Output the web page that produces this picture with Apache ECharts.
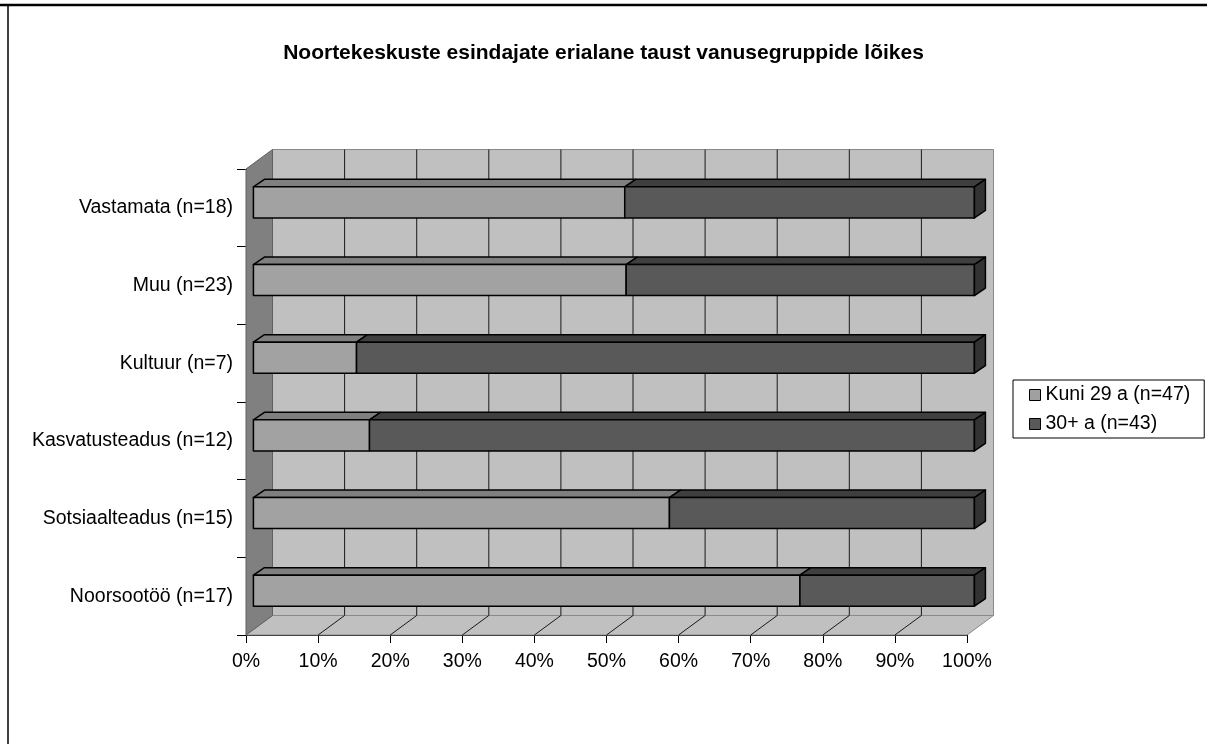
<!DOCTYPE html>
<html>
<head>
<meta charset="utf-8">
<script src="https://cdn.jsdelivr.net/npm/echarts@6/dist/echarts.min.js"></script>
<style>
html,body{margin:0;padding:0;background:#fff;}
#chart{width:1207px;height:744px;}
</style>
</head>
<body>
<div id="chart"></div>
<script>
// ---- data ----
const categories = ['Noorsootöö (n=17)', 'Sotsiaalteadus (n=15)', 'Kasvatusteadus (n=12)', 'Kultuur (n=7)', 'Muu (n=23)', 'Vastamata (n=18)'];
const seriesNames = ['Kuni 29 a (n=47)', '30+ a (n=43)'];
const kuni29 = [75.8, 57.7, 16.1, 14.3, 51.7, 51.5];
const vanem30 = [24.2, 42.3, 83.9, 85.7, 48.3, 48.5];
const xTicks = [0, 10, 20, 30, 40, 50, 60, 70, 80, 90, 100];

// ---- style constants ----
const FONT = "'Liberation Sans', Arial, sans-serif";
const FS = 19.5;
const DX = 26.5, DY = -19.5;          // wall depth offset
const BAR_Z0 = 0.28;                   // bar front depth fraction
const BDX = 11, BDY = -7.5;            // bar depth offset
const BAR_FRAC = 0.40;                 // bar thickness / band

const chart = echarts.init(document.getElementById('chart'), null, {renderer: 'canvas'});

// build stacked data
const dataKuni = categories.map((c, i) => [0, kuni29[i], i]);
const dataVanem = categories.map((c, i) => [kuni29[i], kuni29[i] + vanem30[i], i]);

function wallsRender(params, api) {
  const cs = params.coordSys;
  const x0 = cs.x, x1 = cs.x + cs.width, y0 = cs.y, y1 = cs.y + cs.height;
  const children = [];
  // back wall
  children.push({type: 'polygon', shape: {points: [[x0 + DX, y0 + DY], [x1 + DX, y0 + DY], [x1 + DX, y1 + DY], [x0 + DX, y1 + DY]]},
    style: {fill: '#c0c0c0', stroke: '#8a8a8a', lineWidth: 1}});
  // floor
  children.push({type: 'polygon', shape: {points: [[x0, y1], [x1, y1], [x1 + DX, y1 + DY], [x0 + DX, y1 + DY]]},
    style: {fill: '#c0c0c0', stroke: '#8a8a8a', lineWidth: 1}});
  // side wall
  children.push({type: 'polygon', shape: {points: [[x0, y0], [x0 + DX, y0 + DY], [x0 + DX, y1 + DY], [x0, y1]]},
    style: {fill: '#808080', stroke: '#606060', lineWidth: 1}});
  // grid lines
  xTicks.forEach(v => {
    const x = api.coord([v, 0])[0];
    if (v > 0 && v < 100) {
      children.push({type: 'line', shape: {x1: x + DX, y1: y0 + DY, x2: x + DX, y2: y1 + DY},
        style: {stroke: '#1a1a1a', lineWidth: 1}});
      children.push({type: 'line', shape: {x1: x, y1: y1, x2: x + DX, y2: y1 + DY},
        style: {stroke: '#1a1a1a', lineWidth: 1}});
    }
  });
  return {type: 'group', children: children};
}

function makeBarRender(front, top, side, isLast) {
  return function (params, api) {
    const s = api.value(0), e = api.value(1), ci = api.value(2);
    const p0 = api.coord([s, ci]);
    const p1 = api.coord([e, ci]);
    const band = api.size([0, 1])[1];
    const h = band * BAR_FRAC;
    const ox = BAR_Z0 * DX, oy = BAR_Z0 * DY;
    const xa = p0[0] + ox, xb = p1[0] + ox;
    const yt = p0[1] + oy - h / 2, yb = p0[1] + oy + h / 2;
    const st = {stroke: '#000', lineWidth: 1.5, lineJoin: 'round'};
    const children = [
      {type: 'polygon', shape: {points: [[xa, yt], [xb, yt], [xb + BDX, yt + BDY], [xa + BDX, yt + BDY]]},
        style: Object.assign({fill: top}, st)},
      {type: 'rect', shape: {x: xa, y: yt, width: xb - xa, height: yb - yt},
        style: Object.assign({fill: front}, st)}
    ];
    if (isLast) {
      children.push({type: 'polygon', shape: {points: [[xb, yt], [xb + BDX, yt + BDY], [xb + BDX, yb + BDY], [xb, yb]]},
        style: Object.assign({fill: side}, st)});
    }
    return {type: 'group', children: children};
  };
}

const option = {
  backgroundColor: '#fff',
  animation: false,
  title: {
    text: 'Noortekeskuste esindajate erialane taust vanusegruppide lõikes',
    left: 'center', top: 38,
    textStyle: {fontFamily: FONT, fontSize: 21, fontWeight: 'bold', color: '#000'}
  },
  legend: {
    orient: 'vertical',
    left: 1013, top: 380,
    padding: [5, 14, 4, 16],
    itemGap: 9,
    itemWidth: 11, itemHeight: 11,
    borderColor: '#000', borderWidth: 1,
    textStyle: {fontFamily: FONT, fontSize: FS, color: '#000'},
    data: [
      {name: seriesNames[0], icon: 'rect', itemStyle: {color: '#a0a0a0', borderColor: '#000', borderWidth: 1}},
      {name: seriesNames[1], icon: 'rect', itemStyle: {color: '#595959', borderColor: '#000', borderWidth: 1}}
    ]
  },
  grid: {left: 246, right: 240, top: 169, bottom: 109, containLabel: false},
  xAxis: {
    type: 'value', min: 0, max: 100, interval: 10,
    axisLine: {show: true, lineStyle: {color: '#000', width: 1}},
    axisTick: {show: true, length: 8, lineStyle: {color: '#000'}},
    splitLine: {show: false},
    axisLabel: {formatter: '{value}%', margin: 17, fontFamily: FONT, fontSize: FS, color: '#000'}
  },
  yAxis: {
    type: 'category', data: categories,
    axisLine: {show: true, lineStyle: {color: '#000', width: 1}},
    axisTick: {show: true, length: 9, lineStyle: {color: '#000'}},
    splitLine: {show: false},
    axisLabel: {margin: 13, fontFamily: FONT, fontSize: FS, color: '#000'}
  },
  graphic: [
    {type: 'rect', shape: {x: 8, y: 5, width: 1400, height: 900}, style: {fill: 'none', stroke: '#000', lineWidth: 1.5}, z: 100},
    {type: 'line', shape: {x1: 0, y1: 5, x2: 1207, y2: 5}, style: {stroke: '#000', lineWidth: 2.5}, z: 100}
  ],
  series: [
    {type: 'custom', name: '_walls', silent: true, renderItem: wallsRender, data: [[0, 0, 0]], encode: {x: 0, y: 2}, z: 1},
    {type: 'custom', name: seriesNames[0], renderItem: makeBarRender('#a2a2a2', '#7f7f7f', '#6a6a6a', false),
      itemStyle: {color: '#a0a0a0'}, data: dataKuni, encode: {x: [0, 1], y: 2}, z: 3},
    {type: 'custom', name: seriesNames[1], renderItem: makeBarRender('#595959', '#3f3f3f', '#333333', true),
      itemStyle: {color: '#595959'}, data: dataVanem, encode: {x: [0, 1], y: 2}, z: 4}
  ]
};
chart.setOption(option);
</script>
</body>
</html>
